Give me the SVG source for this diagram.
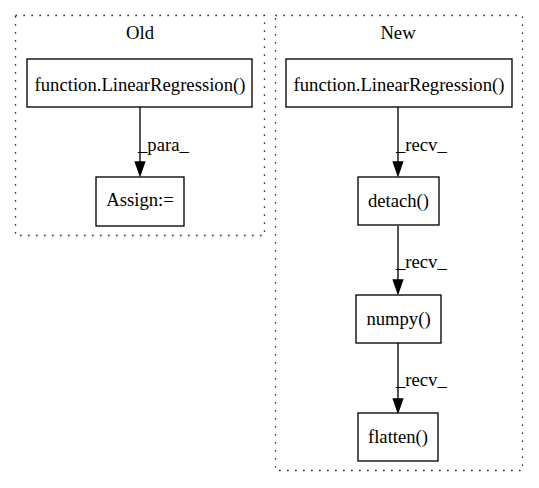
<svg xmlns="http://www.w3.org/2000/svg" width="539" height="488" viewBox="0 0 539 488">
<style>
.cl{fill:none;stroke:#000;stroke-width:1.33;stroke-dasharray:1.33,6.67}
.nd{fill:#fff;stroke:#000;stroke-width:1.33}
.t{font-family:"Liberation Serif","Times New Roman",serif;font-size:18.67px;fill:#000;text-anchor:middle}
.l{font-family:"Liberation Serif","Times New Roman",serif;font-size:18.67px;fill:#000;text-anchor:start}
.e{fill:none;stroke:#000;stroke-width:1.33}
.ah{fill:#000;stroke:#000;stroke-width:1.33}
</style>
<rect width="539" height="488" fill="#fff"/>
<g id="cluster_old">
<rect class="cl" x="15.5" y="15.5" width="249" height="220"/>
<text class="t" x="140" y="39">Old</text>
</g>
<g id="cluster_new">
<rect class="cl" x="275.5" y="15.5" width="247" height="455"/>
<text class="t" x="398" y="39">New</text>
</g>
<g id="connectors">
<path class="e" d="M140,107 V162"/>
<polygon class="ah" points="135.3,162 140,175.5 144.7,162"/>
<text class="l" x="138" y="151">_para_</text>
<path class="e" d="M398,107 V162"/>
<polygon class="ah" points="393.3,162 398,175.5 402.7,162"/>
<text class="l" x="396" y="151">_recv_</text>
<path class="e" d="M398,226 V280"/>
<polygon class="ah" points="393.3,280 398,293.5 402.7,280"/>
<text class="l" x="396" y="268">_recv_</text>
<path class="e" d="M398,343 V399"/>
<polygon class="ah" points="393.3,399 398,412.5 402.7,399"/>
<text class="l" x="396" y="386">_recv_</text>
</g>
<g id="old_func">
<rect class="nd" x="27" y="59" width="225" height="48"/>
<text class="t" x="140" y="90.5">function.LinearRegression()</text>
</g>
<g id="old_assign">
<rect class="nd" x="96" y="177" width="88" height="49"/>
<text class="t" x="140" y="206">Assign:=</text>
</g>
<g id="new_func">
<rect class="nd" x="286" y="59" width="226" height="48"/>
<text class="t" x="399" y="90.5">function.LinearRegression()</text>
</g>
<g id="new_detach">
<rect class="nd" x="358" y="177" width="81" height="48"/>
<text class="t" x="398.5" y="207">detach()</text>
</g>
<g id="new_numpy">
<rect class="nd" x="356" y="295" width="85" height="48"/>
<text class="t" x="398.5" y="325">numpy()</text>
</g>
<g id="new_flatten">
<rect class="nd" x="358" y="413" width="80" height="48"/>
<text class="t" x="398" y="443">flatten()</text>
</g>
</svg>
